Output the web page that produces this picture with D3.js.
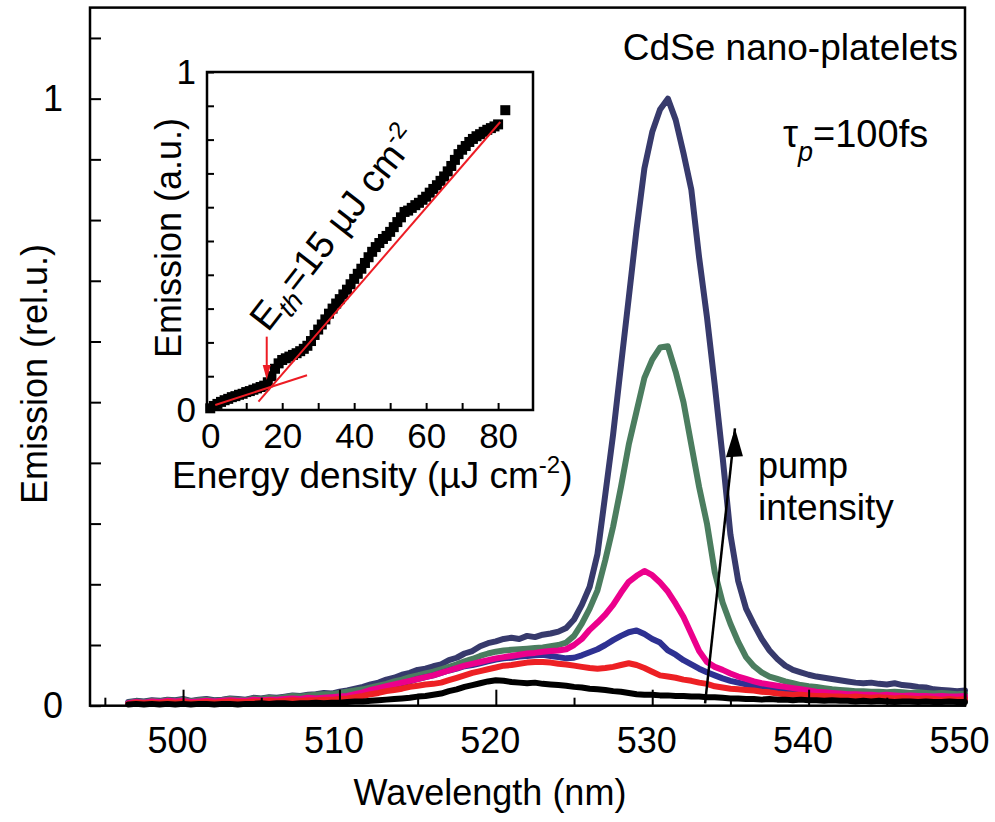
<!DOCTYPE html>
<html>
<head>
<meta charset="utf-8">
<script src="https://cdnjs.cloudflare.com/ajax/libs/d3/7.8.5/d3.min.js"></script>
<style>
body { margin: 0; background: #fff; }
svg { display: block; font-family: "Liberation Sans", Arial, sans-serif; }
</style>
</head>
<body>
<svg class="chart" width="995" height="822"></svg>
<script>
// spectra sampled every 0.5 nm from 496.5 to 550 nm
const wavelength = d3.range(496.5, 550.01, 0.5);

const spectrumNavy = [
  .006,.008,.007,.009,.008,.010,.009,.011,.008,.010,
  .011,.009,.010,.012,.011,.010,.013,.012,.014,.013,
  .015,.017,.016,.018,.019,.021,.020,.023,.025,.028,
  .031,.035,.038,.043,.046,.051,.054,.059,.061,.065,
  .068,.075,.079,.086,.090,.098,.103,.106,.110,.112,
  .110,.115,.113,.117,.119,.122,.128,.142,.166,.196,
  .250,.348,.447,.560,.672,.785,.885,.945,.982,1.00,
  .965,.910,.850,.738,.640,.528,.410,.282,.205,.160,
  .134,.110,.091,.077,.066,.059,.055,.051,.048,.046,
  .044,.042,.040,.038,.037,.038,.036,.035,.037,.034,
  .033,.031,.030,.027,.026,.025,.024,.025
];
const spectrumGreen = [
  .005,.007,.006,.008,.007,.009,.008,.010,.007,.009,
  .010,.008,.009,.011,.010,.009,.012,.011,.013,.012,
  .014,.016,.015,.017,.018,.019,.019,.021,.023,.025,
  .027,.030,.033,.036,.040,.043,.047,.050,.053,.056,
  .060,.064,.068,.073,.077,.082,.086,.089,.091,.092,
  .093,.094,.095,.096,.098,.100,.104,.115,.135,.160,
  .190,.240,.295,.360,.430,.485,.540,.570,.590,.592,
  .550,.500,.430,.360,.300,.220,.170,.135,.105,.080,
  .065,.055,.048,.044,.040,.037,.034,.032,.031,.029,
  .027,.026,.025,.024,.024,.023,.023,.022,.023,.022,
  .021,.022,.021,.020,.021,.020,.019,.020
];
const spectrumMagenta = [
  .004,.006,.005,.007,.006,.008,.007,.008,.006,.007,
  .008,.007,.008,.009,.008,.008,.010,.009,.010,.010,
  .011,.012,.011,.013,.012,.013,.014,.015,.016,.019,
  .022,.026,.029,.032,.035,.038,.041,.044,.047,.050,
  .054,.058,.062,.066,.069,.072,.075,.078,.080,.082,
  .084,.086,.087,.089,.090,.091,.093,.100,.110,.125,
  .137,.150,.166,.186,.204,.214,.222,.215,.203,.188,
  .168,.146,.118,.090,.072,.064,.059,.053,.048,.044,
  .040,.037,.035,.033,.031,.029,.027,.025,.023,.022,
  .021,.020,.019,.019,.018,.018,.017,.018,.017,.016,
  .017,.016,.016,.015,.016,.015,.015,.016
];
const spectrumBlue = [
  .004,.005,.004,.006,.005,.007,.006,.007,.005,.006,
  .007,.006,.007,.008,.007,.007,.009,.008,.009,.009,
  .010,.011,.010,.012,.011,.012,.013,.014,.015,.017,
  .020,.024,.027,.030,.034,.037,.040,.044,.047,.050,
  .054,.058,.061,.065,.067,.070,.073,.076,.078,.079,
  .081,.082,.083,.084,.082,.080,.078,.079,.083,.088,
  .093,.100,.108,.115,.121,.124,.118,.110,.104,.091,
  .084,.075,.068,.061,.055,.050,.045,.041,.038,.035,
  .033,.031,.029,.027,.026,.025,.023,.022,.020,.019,
  .019,.018,.018,.017,.016,.016,.015,.016,.015,.015,
  .014,.015,.014,.013,.014,.013,.013,.014
];
const spectrumRed = [
  .003,.005,.004,.005,.004,.006,.005,.006,.004,.005,
  .006,.005,.006,.007,.006,.006,.007,.007,.008,.007,
  .008,.009,.008,.009,.009,.010,.010,.011,.012,.014,
  .016,.019,.021,.024,.026,.028,.031,.033,.035,.036,
  .038,.042,.046,.050,.054,.057,.060,.063,.066,.067,
  .069,.071,.072,.072,.071,.069,.068,.066,.064,.062,
  .061,.062,.064,.067,.070,.067,.062,.056,.050,.048,
  .046,.043,.041,.038,.036,.032,.030,.028,.027,.026,
  .025,.023,.022,.020,.019,.018,.018,.017,.016,.016,
  .015,.015,.014,.015,.014,.013,.014,.013,.012,.013,
  .012,.011,.012,.011,.010,.011,.010,.011
];
const spectrumBlack = [
  .002,.003,.002,.003,.002,.003,.002,.003,.002,.003,
  .003,.002,.003,.003,.002,.003,.003,.004,.003,.004,
  .004,.003,.004,.004,.005,.004,.005,.005,.006,.007,
  .007,.008,.009,.010,.011,.012,.013,.015,.016,.018,
  .020,.024,.027,.031,.034,.037,.040,.042,.041,.039,
  .038,.037,.038,.036,.035,.034,.033,.031,.030,.028,
  .027,.026,.024,.023,.021,.019,.018,.018,.017,.017,
  .016,.016,.015,.015,.014,.014,.013,.012,.012,.011,
  .011,.010,.011,.010,.010,.009,.010,.009,.009,.008,
  .009,.008,.008,.007,.008,.007,.008,.007,.006,.007,
  .007,.006,.007,.006,.006,.007,.006,.006
];

// inset: emission vs pump energy density
const insetEnergy = [
  0,1,2,3,4,5,6,7,8,9,10,11,12,13,14,15,16,17,18,19,20,
  21,22,23,24,25,26,27,28,29,30,31,32,33,34,35,36,37,38,39,40,
  41,42,43,44,45,46,47,48,49,50,51,52,53,54,55,56,57,58,59,60,
  61,62,63,64,65,66,67,68,69,70,71,72,73,74,75,76,77,78,79,80,82
];
const insetEmission = [
  .005,.012,.018,.024,.029,.033,.038,.041,.045,.048,.053,
  .056,.060,.064,.068,.072,.082,.100,.122,.138,.148,
  .153,.158,.163,.168,.174,.181,.190,.204,.222,.238,
  .253,.268,.285,.300,.315,.328,.342,.356,.372,.388,
  .403,.418,.435,.452,.468,.482,.494,.506,.515,.527,
  .541,.556,.570,.586,.590,.598,.606,.613,.622,.631,
  .643,.654,.665,.678,.691,.706,.722,.740,.757,.770,
  .781,.793,.802,.810,.816,.823,.829,.834,.839,.845,.887
];
// linear fits below and above threshold
const fitBelow = [[1.4, 0.015], [26.9, 0.103]];
const fitAbove = [[13.4, 0.0245], [80.6, 0.852]];
const thresholdArrow = [[15.7, 0.217], [15.7, 0.089]];

const series = [
  {values: spectrumNavy, color: "#373a6c"},
  {values: spectrumGreen, color: "#4b7d5f"},
  {values: spectrumBlue, color: "#2e3192"},
  {values: spectrumMagenta, color: "#ec008c"},
  {values: spectrumRed, color: "#ed2024"},
  {values: spectrumBlack, color: "#000000"}
];

const xMajor = [500, 510, 520, 530, 540, 550];
const xMinor = [495, 505, 515, 525, 535, 545];
const yTicks = d3.range(0, 1.15, 0.1);
const insetXTicks = [0, 10, 20, 30, 40, 50, 60, 70, 80];
const insetYTicks = d3.range(0, 1.001, 0.1);

const svg = d3.select(".chart");

const x = d3.scaleLinear().domain([494.05, 550]).range([90, 965]);
const y = d3.scaleLinear().domain([0, 1.15]).range([705.7, 7.6]);

// main curves
const line = d3.line()
    .x((d, i) => x(wavelength[i]))
    .y(d => y(d));

svg.append("g").selectAll("path")
    .data(series)
    .enter().append("path")
    .attr("d", d => line(d.values))
    .style("fill", "none")
    .style("stroke", d => d.color)
    .style("stroke-width", 6)
    .style("stroke-linejoin", "round")
    .style("stroke-linecap", "round");

// axes
svg.append("g")
    .attr("transform", `translate(0,${y(0)})`)
    .call(d3.axisBottom(x).tickValues(xMajor).tickSize(-16).tickPadding(22).tickFormat(d3.format("d")))
    .call(g => g.select(".domain").remove())
    .call(g => g.selectAll("line").style("stroke-width", 2))
    .call(g => g.selectAll("text").attr("dx", -6).style("font-size", "36px").style("font-family", "Liberation Sans, Arial, sans-serif"));

svg.append("g")
    .attr("transform", `translate(0,${y(0)})`)
    .call(d3.axisBottom(x).tickValues(xMinor).tickSize(-8).tickFormat(""))
    .call(g => g.select(".domain").remove())
    .call(g => g.selectAll("line").style("stroke-width", 2));

svg.append("g")
    .attr("transform", `translate(${x.range()[0]},0)`)
    .call(d3.axisLeft(y).tickValues(yTicks).tickSize(-11).tickPadding(27)
        .tickFormat(d => (Math.abs(d) < 1e-6 ? "0" : Math.abs(d - 1) < 1e-6 ? "1" : "")))
    .call(g => g.select(".domain").remove())
    .call(g => g.selectAll("line").style("stroke-width", 2))
    .call(g => g.selectAll("text").style("font-size", "36px").style("font-family", "Liberation Sans, Arial, sans-serif"));

svg.append("rect")
    .attr("x", x.range()[0]).attr("y", y.range()[1])
    .attr("width", x.range()[1] - x.range()[0])
    .attr("height", y.range()[0] - y.range()[1])
    .style("fill", "none").style("stroke", "#000").style("stroke-width", 2.5);

svg.append("text")
    .attr("x", 490).attr("y", 805)
    .attr("text-anchor", "middle")
    .style("font-size", "36px")
    .text("Wavelength (nm)");

svg.append("text")
    .attr("transform", "translate(47,374) rotate(-90)")
    .attr("text-anchor", "middle")
    .style("font-size", "36px")
    .text("Emission (rel.u.)");

// annotations
svg.append("text")
    .attr("x", 958).attr("y", 60)
    .attr("text-anchor", "end")
    .style("font-size", "37px")
    .text("CdSe nano-platelets");

const tau = svg.append("text")
    .attr("x", 783).attr("y", 147)
    .style("font-size", "38px");
tau.append("tspan").text("τ");
tau.append("tspan").attr("dy", 14).style("font-size", "27px").style("font-style", "italic").text("p");
tau.append("tspan").attr("dy", -14).text("=100fs");

svg.append("text")
    .attr("x", 758).attr("y", 478)
    .style("font-size", "36px")
    .text("pump");
svg.append("text")
    .attr("x", 758).attr("y", 520)
    .style("font-size", "37px")
    .text("intensity");

svg.append("line")
    .attr("x1", x(533.38)).attr("y1", y(0.004))
    .attr("x2", x(535.29)).attr("y2", y(0.457))
    .style("stroke", "#000").style("stroke-width", 2.5);
svg.append("path")
    .attr("d", (() => {
        const tx = x(535.29), ty = y(0.457);
        return `M${tx},${ty}L${tx - 9},${ty + 29}L${tx + 8},${ty + 28}Z`;
    })())
    .style("fill", "#000");

// inset
const xi = d3.scaleLinear().domain([-0.9, 89.7]).range([207, 533]);
const yi = d3.scaleLinear().domain([0, 1]).range([410, 72]);

svg.append("rect")
    .attr("x", 207).attr("y", 72).attr("width", 326).attr("height", 338)
    .style("fill", "#fff");

svg.append("g").selectAll("rect")
    .data(insetEnergy)
    .enter().append("rect")
    .attr("x", (d) => xi(d) - 5)
    .attr("y", (d, i) => yi(insetEmission[i]) - 5)
    .attr("width", 10).attr("height", 10)
    .style("fill", "#000");

const fitLine = d3.line().x(d => xi(d[0])).y(d => yi(d[1]));
svg.append("path").attr("d", fitLine(fitBelow))
    .style("stroke", "#ed1c24").style("stroke-width", 2).style("fill", "none");
svg.append("path").attr("d", fitLine(fitAbove))
    .style("stroke", "#ed1c24").style("stroke-width", 2).style("fill", "none");

svg.append("line")
    .attr("x1", xi(thresholdArrow[0][0])).attr("y1", yi(thresholdArrow[0][1]))
    .attr("x2", xi(thresholdArrow[1][0])).attr("y2", yi(thresholdArrow[1][1]) - 10)
    .style("stroke", "#ed1c24").style("stroke-width", 2);
svg.append("path")
    .attr("d", (() => {
        const tx = xi(thresholdArrow[1][0]), ty = yi(thresholdArrow[1][1]);
        return `M${tx},${ty}L${tx - 4},${ty - 15}L${tx + 4},${ty - 15}Z`;
    })())
    .style("fill", "#ed1c24");

svg.append("g")
    .attr("transform", "translate(0,410)")
    .call(d3.axisBottom(xi).tickValues(insetXTicks).tickSize(-7).tickPadding(13)
        .tickFormat(d => (d % 20 === 0 ? d : "")))
    .call(g => g.select(".domain").remove())
    .call(g => g.selectAll("line").style("stroke-width", 2))
    .call(g => g.selectAll("text").style("font-size", "35px").style("font-family", "Liberation Sans, Arial, sans-serif"));

svg.append("g")
    .attr("transform", "translate(207,0)")
    .call(d3.axisLeft(yi).tickValues(insetYTicks).tickSize(-7).tickPadding(11)
        .tickFormat(d => (Math.abs(d) < 1e-6 ? "0" : Math.abs(d - 1) < 1e-6 ? "1" : "")))
    .call(g => g.select(".domain").remove())
    .call(g => g.selectAll("line").style("stroke-width", 2))
    .call(g => g.selectAll("text").style("font-size", "35px").style("font-family", "Liberation Sans, Arial, sans-serif"));

svg.append("rect")
    .attr("x", 207).attr("y", 72).attr("width", 326).attr("height", 338)
    .style("fill", "none").style("stroke", "#000").style("stroke-width", 2.5);

svg.append("text")
    .attr("x", 172).attr("y", 488)
    .style("font-size", "37px")
    .call(t => {
        t.append("tspan").text("Energy density (µJ cm");
        t.append("tspan").attr("dy", -15).style("font-size", "24px").text("-2");
        t.append("tspan").attr("dy", 15).text(")");
    });

svg.append("text")
    .attr("transform", "translate(181,238) rotate(-90)")
    .attr("text-anchor", "middle")
    .style("font-size", "36px")
    .text("Emission (a.u.)");

svg.append("text")
    .attr("transform", "translate(268,333) rotate(-52)")
    .style("font-size", "38px")
    .call(t => {
        t.append("tspan").text("E");
        t.append("tspan").attr("dy", 9).style("font-size", "27px").style("font-style", "italic").text("th");
        t.append("tspan").attr("dy", -9).text("=15 µJ cm");
        t.append("tspan").attr("dy", -15).style("font-size", "24px").text("-2");
    });
</script>
</body>
</html>
